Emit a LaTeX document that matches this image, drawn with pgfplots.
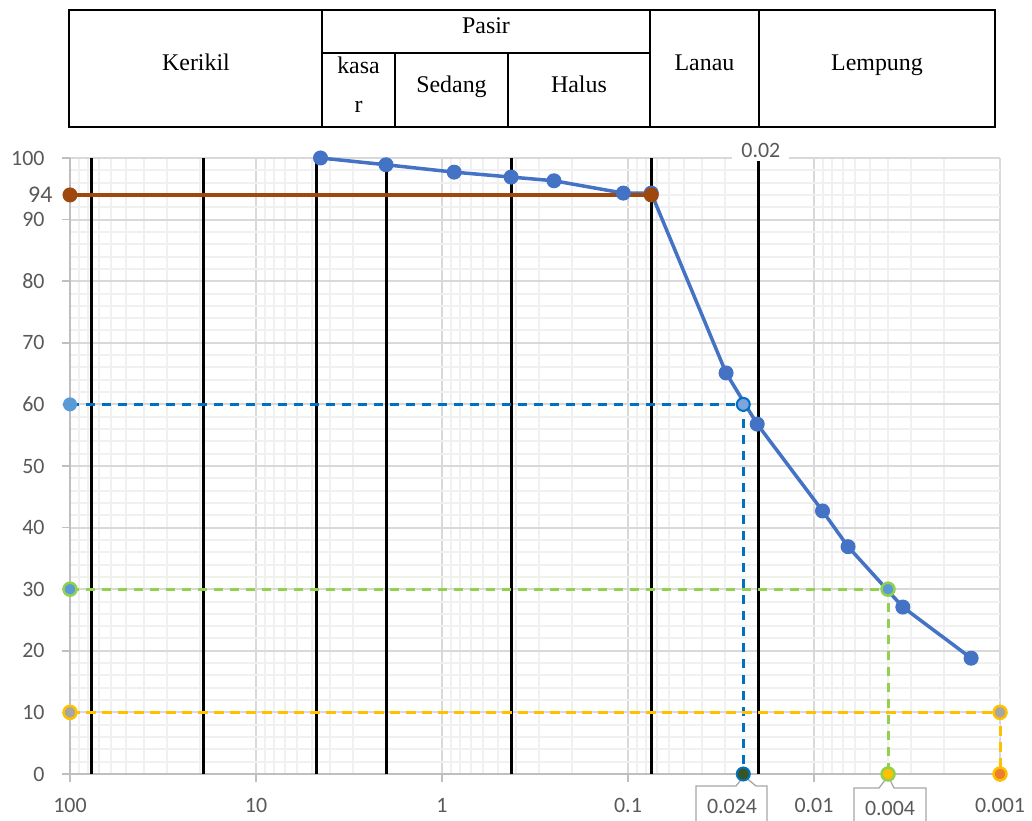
\documentclass[border=0pt]{standalone}
\usepackage{pgfplots}
\pgfplotsset{compat=1.18}
\usepackage{fontspec}
\setmainfont{Carlito}
\newfontfamily\tnr{Liberation Serif}
\definecolor{tickgray}{HTML}{595959}
\definecolor{majgrid}{HTML}{D9D9D9}
\definecolor{mingrid}{HTML}{F0F0F0}
\definecolor{axgray}{HTML}{BFBFBF}
\definecolor{mainblue}{HTML}{4472C4}
\definecolor{brownc}{HTML}{9E480E}
\definecolor{dblue}{HTML}{0070C0}
\definecolor{lgreen}{HTML}{92D050}
\definecolor{gold}{HTML}{FFC000}
\definecolor{lblue}{HTML}{5B9BD5}
\definecolor{pblue}{HTML}{7FA3DC}
\definecolor{mgray}{HTML}{A5A5A5}
\definecolor{orangec}{HTML}{ED7D31}
\definecolor{dgreen}{HTML}{375623}
\definecolor{callgray}{HTML}{A6A6A6}
\begin{document}
\begin{tikzpicture}[x=1bp,y=1bp]
% callout boxes (drawn first, under the markers)
\draw[callgray, line width=1.3bp, fill=white] (696,35) -- (736,35) -- (744,45) -- (756,35) -- (767,35) -- (767,-10) -- (696,-10) -- cycle;
\node[text=tickgray, font=\fontsize{22}{26}\selectfont] at (732,15) {0.024};
\draw[callgray, line width=1.3bp, fill=white] (854,33) -- (879,33) -- (888,45) -- (894,33) -- (926,33) -- (926,-10) -- (854,-10) -- cycle;
\node[text=tickgray, font=\fontsize{22}{26}\selectfont] at (890,13) {0.004};

\begin{axis}[
  at={(70bp,47bp)}, anchor=south west,
  scale only axis, width=930bp, height=616bp,
  xmode=log, x dir=reverse,
  xmin=0.001, xmax=100, ymin=0, ymax=100,
  xtick={100,10,1,0.1,0.01,0.001},
  xticklabels={100,10,1,0.1,0.01,0.001},
  minor xtick={0.002,0.003,0.004,0.005,0.006,0.007,0.008,0.009,
               0.02,0.03,0.04,0.05,0.06,0.07,0.08,0.09,
               0.2,0.3,0.4,0.5,0.6,0.7,0.8,0.9,
               2,3,4,5,6,7,8,9,20,30,40,50,60,70,80,90},
  ytick={0,10,...,100},
  minor ytick={2,4,6,8,12,14,16,18,22,24,26,28,32,34,36,38,42,44,46,48,52,54,56,58,62,64,66,68,72,74,76,78,82,84,86,88,92,94,96,98},
  extra y ticks={94},
  extra y tick style={grid=none, major tick length=0pt,
     yticklabel style={font=\fontsize{24}{28}\selectfont, xshift=0bp}},
  grid=both,
  major grid style={majgrid, line width=2bp},
  minor grid style={mingrid, line width=2bp},
  axis x line*=bottom, axis y line*=left,
  axis line style={axgray, line width=1.5bp},
  tick align=outside,
  major tick length=8bp, minor tick length=0pt,
  tick style={axgray, line width=1.5bp},
  ticklabel style={font=\fontsize{22}{26}\selectfont, text=tickgray},
  xticklabel style={yshift=-13bp},
  yticklabel style={xshift=-14bp},
  /pgf/number format/assume math mode=true,
  clip=false,
]
% boundary lines
\addplot[black, line width=3bp] coordinates {(76.2,0)(76.2,100)};
\addplot[black, line width=3bp] coordinates {(19.05,0)(19.05,100)};
\addplot[black, line width=3bp] coordinates {(4.75,0)(4.75,100)};
\addplot[black, line width=3bp] coordinates {(2.0,0)(2.0,100)};
\addplot[black, line width=3bp] coordinates {(0.425,0)(0.425,100)};
\addplot[black, line width=3bp] coordinates {(0.075,0)(0.075,100)};
\addplot[black, line width=3bp] coordinates {(0.02,0)(0.02,100)};
\node[fill=white, text=tickgray, font=\fontsize{22}{26}\selectfont, inner xsep=9bp, inner ysep=3bp] at (axis cs:0.0193,101.2) {0.02};

% grading curve
\addplot[mainblue, line width=3.5bp, mark=*, mark size=7bp, mark options={fill=mainblue, draw=mainblue, line width=1bp}]
 coordinates {(4.5,100)(2.0,98.9)(0.86,97.7)(0.425,96.9)(0.25,96.3)(0.106,94.3)(0.075,94.3)
              (0.0297,65.1)(0.0202,56.8)(0.009,42.7)(0.00656,36.9)(0.00333,27.1)(0.00143,18.8)};
% 94 line
\addplot[brownc, line width=4bp, mark=*, mark size=7bp, mark options={fill=brownc, draw=brownc, line width=1bp}]
 coordinates {(100,94)(0.075,94)};

% D60
\addplot[dblue, line width=3bp, dash pattern=on 9bp off 7bp] coordinates {(100,60)(0.024,60)(0.024,0)};
\addplot[only marks, mark=*, mark size=6.5bp, mark options={fill=lblue, draw=lblue, line width=1bp}] coordinates {(100,60)};
\addplot[only marks, mark=*, mark size=6.5bp, mark options={fill=pblue, draw=dblue, line width=2bp}] coordinates {(0.024,60)};
\addplot[only marks, mark=*, mark size=6.5bp, mark options={fill=dgreen, draw=dblue, line width=2bp}] coordinates {(0.024,0)};
% D30
\addplot[lgreen, line width=3bp, dash pattern=on 9bp off 7bp] coordinates {(100,30)(0.004,30)(0.004,0)};
\addplot[only marks, mark=*, mark size=6.5bp, mark options={fill=lblue, draw=lgreen, line width=2.5bp}] coordinates {(100,30)(0.004,30)};
\addplot[only marks, mark=*, mark size=6.5bp, mark options={fill=gold, draw=lgreen, line width=2.5bp}] coordinates {(0.004,0)};
% D10
\addplot[gold, line width=3bp, dash pattern=on 10bp off 6bp] coordinates {(100,10)(0.001,10)(0.001,0)};
\addplot[only marks, mark=*, mark size=6.5bp, mark options={fill=mgray, draw=gold, line width=2.5bp}] coordinates {(100,10)(0.001,10)};
\addplot[only marks, mark=*, mark size=6.5bp, mark options={fill=orangec, draw=gold, line width=2.5bp}] coordinates {(0.001,0)};
\end{axis}

% classification table
\begin{scope}[line width=2.2bp, black]
\draw (69,694) rectangle (995,811);
\draw (322,694) -- (322,811);
\draw (650,694) -- (650,811);
\draw (759,694) -- (759,811);
\draw (322,768) -- (650,768);
\draw (395,694) -- (395,768);
\draw (508,694) -- (508,768);
\end{scope}
\begin{scope}[every node/.style={anchor=base, font=\tnr\fontsize{24}{28}\selectfont, inner sep=0pt}]
\node at (196,750) {Kerikil};
\node at (486,787) {Pasir};
\node at (358.5,747) {kasa};
\node at (358.5,708) {r};
\node at (451.5,728) {Sedang};
\node at (579,728) {Halus};
\node at (704.5,750) {Lanau};
\node at (877,750) {Lempung};
\end{scope}

\pgfresetboundingbox
\useasboundingbox (0,0) rectangle (1032,821);
\end{tikzpicture}
\end{document}
